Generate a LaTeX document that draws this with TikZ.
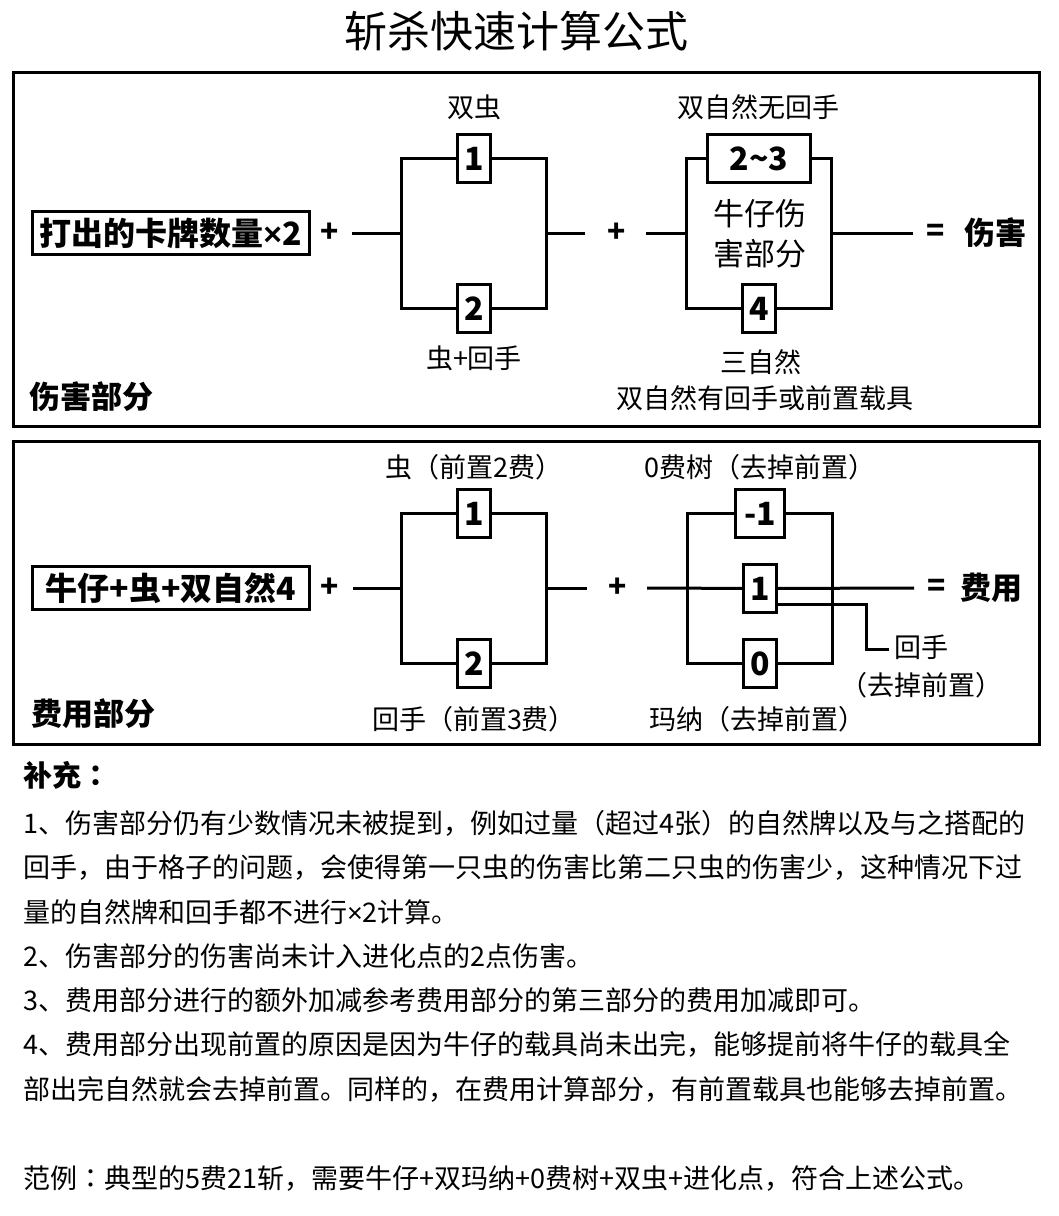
\documentclass[tikz,border=0pt]{standalone}
\usepackage{fontspec}
\setmainfont{Noto Sans CJK SC}
\newfontfamily\latf{Liberation Sans}
\newfontfamily\tcf{Noto Sans CJK TC}
\newcommand\fsz[1]{\fontsize{#1}{#1}\selectfont}
\newcommand\tms{{\latf ×}}
\newcommand\fcolon{{\tcf ：}}
\begin{document}
\begin{tikzpicture}[x=1pt,y=-1pt,
  conn/.style={line width=3pt},
  frame/.style={draw, line width=3pt},
  numbox/.style={draw, line width=3pt, fill=white, inner sep=0pt, minimum width=33pt, minimum height=48pt, font=\fsz{32}\bfseries},
  frm/.style={draw, line width=3pt, inner sep=0pt, minimum width=277pt, minimum height=43pt, font=\fsz{32}\bfseries},
  lbl/.style={inner sep=0pt, font=\fsz{27}},
  op/.style={inner sep=0pt, font=\fsz{30}\bfseries},
  big/.style={inner sep=0pt, font=\fsz{31}\bfseries},
  sect/.style={anchor=west, inner sep=0pt, font=\fsz{31}\bfseries},
  body/.style={anchor=west, inner sep=0pt, font=\fsz{27}}]
\useasboundingbox[fill=white] (0,0) rectangle (1058,1216);

% title
\node[inner sep=0pt, font=\fsz{43}] (title) at (516.5,31) {斩杀快速计算公式};

% ---------- damage part ----------
\draw[frame] (13.5,72) rectangle (1039.5,426);
\node[frm] (f1) at (170.5,233) {打出的卡牌数量\tms 2};
\node[op] (p1) at (330,233) {+};
\coordinate (c1a) at (352,233);
\coordinate (b1L) at (401,233);
\coordinate (b1R) at (546.5,233);
\coordinate (c1b) at (585,233);
\node[numbox] (t1) at (474,158.5) {1};
\node[numbox] (t2) at (474,308.5) {2};
\draw[conn] (t1) -| (b1L) |- (t2);
\draw[conn] (t1) -| (b1R) |- (t2);
\draw[conn] (c1a) -- (b1L);
\draw[conn] (b1R) -- (c1b);
\node[lbl] (l1) at (474,107) {双虫};
\node[lbl] (l2) at (474,358) {虫+回手};

\node[op] (p2) at (617,233) {+};
\coordinate (c2a) at (646,233);
\coordinate (b2L) at (686,233);
\coordinate (b2R) at (831,233);
\coordinate (c2b) at (913,233);
\node[numbox, minimum width=103pt] (t3) at (759,158.5) {2\char"007E 3};
\node[numbox] (t4) at (759,308.5) {4};
\draw[conn] (t3) -| (b2L) |- (t4);
\draw[conn] (t3) -| (b2R) |- (t4);
\draw[conn] (c2a) -- (b2L);
\draw[conn] (b2R) -- (c2b);
\node[inner sep=0pt, font=\fsz{31}, align=center] (mid) at (760,234) {牛仔伤\\[9pt]害部分};
\node[lbl] (l3) at (758,107) {双自然无回手};
\node[lbl] (l4) at (761,362) {三自然};
\node[lbl] (l5) at (764.5,398) {双自然有回手或前置载具};
\node[op] (eq1) at (936,233) {=};
\node[big] (r1) at (995.5,233) {伤害};
\node[sect] (s1) at (29,397) {伤害部分};

% ---------- cost part ----------
\draw[frame] (13.5,441) rectangle (1039.5,744);
\node[frm] (f2) at (171,588) {牛仔+虫+双自然4};
\node[op] (p3) at (330,588) {+};
\coordinate (c3a) at (353,588);
\coordinate (b3L) at (401,588);
\coordinate (b3R) at (546.5,588);
\coordinate (c3b) at (587,588);
\node[numbox] (u1) at (474,513.5) {1};
\node[numbox] (u2) at (474,663.5) {2};
\draw[conn] (u1) -| (b3L) |- (u2);
\draw[conn] (u1) -| (b3R) |- (u2);
\draw[conn] (c3a) -- (b3L);
\draw[conn] (b3R) -- (c3b);
\node[lbl] (l6) at (474,467) {虫（前置2费）};
\node[lbl] (l7) at (474,719) {回手（前置3费）};

\node[op] (p4) at (618,588) {+};
\coordinate (c4a) at (647,588);
\coordinate (b4L) at (687,588);
\coordinate (b4R) at (832,588);
\coordinate (c4b) at (914,588);
\node[numbox, minimum width=49pt] (v1) at (760,513.5) {-1};
\node[numbox] (v2) at (760,588.5) {1};
\node[numbox] (v3) at (760,663.5) {0};
\draw[conn] (v1) -| (b4L) |- (v3);
\draw[conn] (v1) -| (b4R) |- (v3);
\draw[conn] (c4a) -- (v2);
\draw[conn] (v2) -- (c4b);
\coordinate (hk) at (866,649);
\coordinate (hke) at (889,649);
\draw[conn] ([yshift=-16pt]v2.east) -| (hk) -- (hke);
\node[lbl] (l8) at (760,467) {0费树（去掉前置）};
\node[lbl] (l9) at (757,719) {玛纳（去掉前置）};
\node[lbl] (l10) at (921,647) {回手};
\node[lbl] (l11) at (921.5,685) {（去掉前置）};
\node[op] (eq2) at (937,588) {=};
\node[big] (r2) at (991,588) {费用};
\node[sect] (s2) at (31,714) {费用部分};

% ---------- notes ----------
\node[anchor=west, inner sep=0pt, font=\fsz{29}\bfseries] (n0) at (23,775) {补充\fcolon};
\node[body] (n1) at (23,823) {1、伤害部分仍有少数情况未被提到，例如过量（超过4张）的自然牌以及与之搭配的};
\node[body] (n2) at (23,867.5) {回手，由于格子的问题，会使得第一只虫的伤害比第二只虫的伤害少，这种情况下过};
\node[body] (n3) at (23,912) {量的自然牌和回手都不进行\tms 2计算。};
\node[body] (n4) at (23,956) {2、伤害部分的伤害尚未计入进化点的2点伤害。};
\node[body] (n5) at (23,1000) {3、费用部分进行的额外加减参考费用部分的第三部分的费用加减即可。};
\node[body] (n6) at (23,1044.5) {4、费用部分出现前置的原因是因为牛仔的载具尚未出完，能够提前将牛仔的载具全};
\node[body] (n7) at (23,1089) {部出完自然就会去掉前置。同样的，在费用计算部分，有前置载具也能够去掉前置。};
\node[body] (n8) at (23,1179) {范例\fcolon 典型的5费21斩，需要牛仔+双玛纳+0费树+双虫+进化点，符合上述公式。};
\end{tikzpicture}
\end{document}
